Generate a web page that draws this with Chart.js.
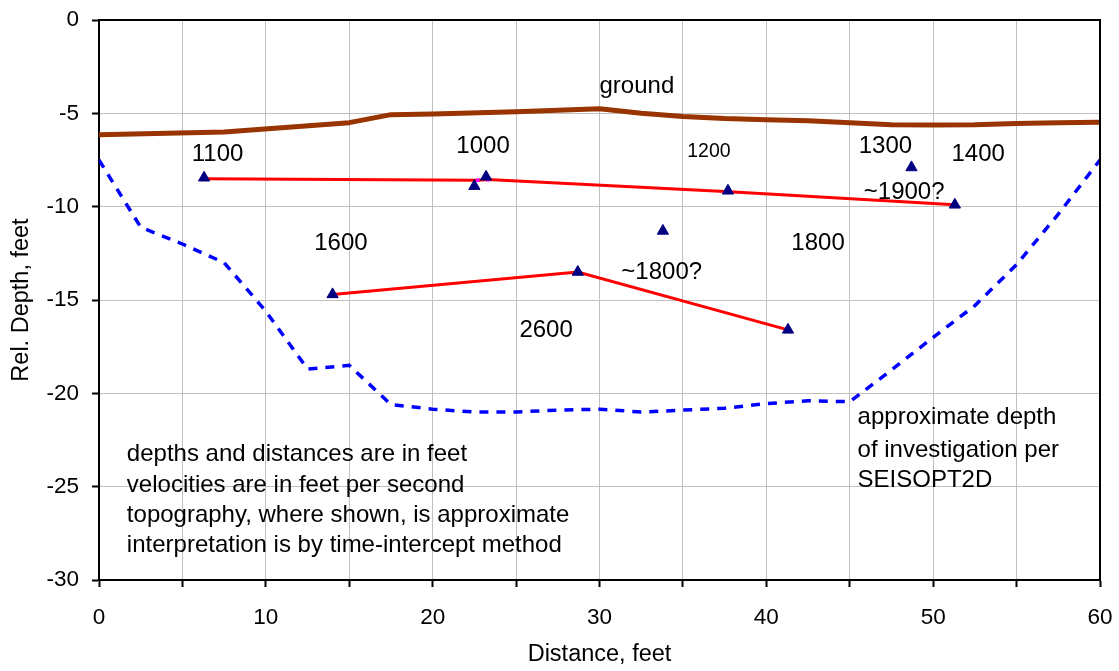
<!DOCTYPE html>
<html>
<head>
<meta charset="utf-8">
<script src="https://cdn.jsdelivr.net/npm/chart.js@4"></script>
<style>
  html, body { margin: 0; padding: 0; background: #fff; }
  #wrap { width: 1119px; height: 671px; }
</style>
</head>
<body>
<div id="wrap"><canvas id="mychart" width="1119" height="671"></canvas></div>
<script>
// ground surface
const groundX = [0, 7.5, 15, 17.5, 20, 25, 30, 32.5, 35, 37.5, 40, 42.5, 45, 47.5, 50, 52.5, 55, 57.5, 60]
const groundY = [-6.15, -6.0, -5.5, -5.07, -5.03, -4.92, -4.75, -5.0, -5.17, -5.28, -5.34, -5.4, -5.5, -5.61, -5.62, -5.61, -5.55, -5.5, -5.48]

// refractor 1 and 2
const layer1X = [6.3, 22.7, 23.3, 37.8, 51.3]
const layer1Y = [-8.5, -8.58, -8.55, -9.2, -9.9]
const layer2X = [14.0, 28.7, 41.3]
const layer2Y = [-14.7, -13.5, -16.6]

// picked points
const pickX = [6.3, 22.5, 23.2, 37.7, 51.3, 48.7, 14.0, 28.7, 33.8, 41.3]
const pickY = [-8.45, -8.9, -8.4, -9.15, -9.9, -7.9, -14.7, -13.5, -11.3, -16.6]

// depth of investigation
const doiX = [0, 2.5, 5, 7.5, 10, 12.5, 15, 17.5, 20, 22.5, 25, 27.5, 30, 32.5, 35, 37.5, 40, 42.5, 45, 47.5, 50, 52.5, 55, 57.5, 60]
const doiY = [-7.5, -11.1, -12.0, -13.0, -15.6, -18.7, -18.5, -20.6, -20.85, -21.0, -21.0, -20.9, -20.85, -21.0, -20.9, -20.8, -20.55, -20.4, -20.45, -18.75, -17.0, -15.3, -13.1, -10.4, -7.5]

const xTicks = [0, 10, 20, 30, 40, 50, 60]

// text notes (data coords, baseline)
const notes = [
  {text: 'ground', x: 30, y: -3.91},
  {text: '1100', x: 5.56, y: -7.54},
  {text: '1000', x: 21.42, y: -7.14},
  {text: '1200', x: 35.26, y: -7.32, small: true},
  {text: '1300', x: 45.54, y: -7.11},
  {text: '1400', x: 51.1, y: -7.54},
  {text: '~1900?', x: 45.84, y: -9.61},
  {text: '1600', x: 12.9, y: -12.32},
  {text: '1800', x: 41.5, y: -12.32},
  {text: '~1800?', x: 31.31, y: -13.89},
  {text: '2600', x: 25.2, y: -16.96},
  {text: 'depths and distances are in feet', x: 1.67, y: -23.6},
  {text: 'velocities are in feet per second', x: 1.67, y: -25.27},
  {text: 'topography, where shown, is approximate', x: 1.67, y: -26.88},
  {text: 'interpretation is by time-intercept method', x: 1.67, y: -28.48},
  {text: 'approximate depth', x: 45.47, y: -21.64},
  {text: 'of investigation per', x: 45.47, y: -23.39},
  {text: 'SEISOPT2D', x: 45.47, y: -25.03}
]

const FONT = '"Liberation Sans", Arial, sans-serif'
const toXY = (xs, ys) => xs.map((v, i) => ({x: v, y: ys[i]}))

const notesPlugin = {
  id: 'notes',
  afterDatasetsDraw(chart) {
    const {ctx, chartArea, scales: {x, y}} = chart
    ctx.save()
    // frame on top and right
    ctx.strokeStyle = '#000'
    ctx.lineWidth = 2
    ctx.beginPath()
    ctx.moveTo(chartArea.left, chartArea.top)
    ctx.lineTo(chartArea.right, chartArea.top)
    ctx.lineTo(chartArea.right, chartArea.bottom)
    ctx.stroke()

    ctx.fillStyle = '#000'
    ctx.textAlign = 'left'
    ctx.textBaseline = 'alphabetic'
    notes.forEach(n => {
      ctx.font = (n.small ? 19.5 : 24) + 'px ' + FONT
      ctx.fillText(n.text, x.getPixelForValue(n.x), y.getPixelForValue(n.y))
    })
    ctx.restore()
  }
}

const data = {
  datasets: [
    {
      label: 'picks',
      data: toXY(pickX, pickY),
      showLine: false,
      pointStyle: 'triangle',
      pointRadius: 6.5,
      backgroundColor: '#000080',
      borderColor: '#000080',
      borderWidth: 1
    },
    {
      label: 'layer 1',
      data: toXY(layer1X, layer1Y),
      showLine: true,
      borderColor: '#FF0000',
      borderWidth: 3,
      pointStyle: 'rect',
      pointRadius: 2.5,
      pointBackgroundColor: '#FF00FF',
      pointBorderWidth: 0
    },
    {
      label: 'layer 2',
      data: toXY(layer2X, layer2Y),
      showLine: true,
      borderColor: '#FF0000',
      borderWidth: 3,
      pointStyle: 'rect',
      pointRadius: 2.5,
      pointBackgroundColor: '#FF00FF',
      pointBorderWidth: 0
    },
    {
      label: 'ground',
      data: toXY(groundX, groundY),
      showLine: true,
      borderColor: '#993300',
      borderWidth: 5,
      borderJoinStyle: 'round',
      pointRadius: 0
    },
    {
      label: 'depth of investigation',
      data: toXY(doiX, doiY),
      showLine: true,
      borderColor: '#0000FF',
      borderWidth: 3.5,
      borderDash: [9, 8],
      pointRadius: 0
    }
  ]
}

const config = {
  type: 'scatter',
  data,
  options: {
    responsive: false,
    animation: false,
    events: [],
    layout: {padding: {top: 20, right: 19, left: 0, bottom: 0}},
    plugins: {legend: {display: false}, tooltip: {enabled: false}},
    scales: {
      x: {
        type: 'linear',
        min: 0,
        max: 60,
        afterFit: s => { s.height = 91; s.paddingLeft = 0; s.paddingRight = 0 },
        ticks: {
          stepSize: 5,
          autoSkip: false,
          maxRotation: 0,
          padding: 17,
          color: '#000',
          font: {family: FONT, size: 22.5},
          callback: v => xTicks.includes(v) ? v : ''
        },
        grid: {color: '#c0c0c0', lineWidth: 1, tickLength: 7, tickColor: '#000', tickWidth: 2},
        border: {color: '#000', width: 2},
        title: {display: true, text: 'Distance, feet', color: '#000', font: {family: FONT, size: 23.5}, padding: {top: 4, bottom: 2}}
      },
      y: {
        min: -30,
        max: 0,
        afterFit: s => { s.width = 99; s.paddingTop = 0; s.paddingBottom = 0 },
        ticks: {
          stepSize: 5,
          padding: 13,
          color: '#000',
          font: {family: FONT, size: 22.5}
        },
        grid: {color: '#c0c0c0', lineWidth: 1, tickLength: 7, tickColor: '#000', tickWidth: 2},
        border: {color: '#000', width: 2},
        title: {display: true, text: 'Rel. Depth, feet', color: '#000', font: {family: FONT, size: 23.5}, padding: {top: 7, bottom: 4}}
      }
    }
  },
  plugins: [notesPlugin]
}

document.addEventListener('DOMContentLoaded', () => {
  new Chart(document.querySelector('#mychart'), config)
})
</script>
</body>
</html>
